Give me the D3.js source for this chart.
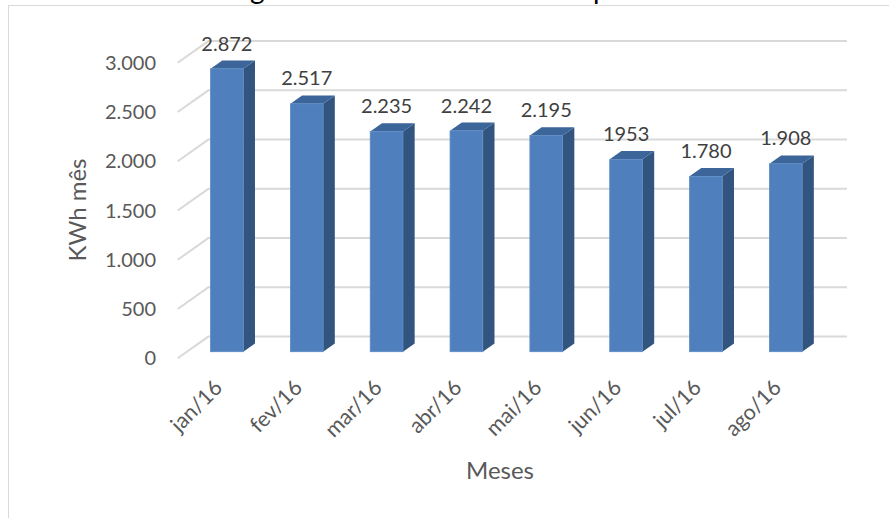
<!DOCTYPE html>
<html>
<head>
<meta charset="utf-8">
<script src="https://cdn.jsdelivr.net/npm/d3@7"></script>
<style>
  body { margin: 0; background: #fff; }
  svg { display: block; font-family: Lato, "Open Sans", sans-serif; }
</style>
</head>
<body>
<div class="chart"></div>
<script>
const months = ["jan/16", "fev/16", "mar/16", "abr/16", "mai/16", "jun/16", "jul/16", "ago/16"];
const kwh = [2872, 2517, 2235, 2242, 2195, 1953, 1780, 1908];
const valueLabels = ["2.872", "2.517", "2.235", "2.242", "2.195", "1953", "1.780", "1.908"];
const yTicks = [0, 500, 1000, 1500, 2000, 2500, 3000];
const titleText = "Histórico de consumo de energia elétrica da unidade no período";

const width = 889;
const height = 518;

// oblique 3d: depth of the whole floor and of the bars
const wallDx = 30.6, wallDy = -21.7;
const barOffX = 9.3, barOffY = -6.6;
const barDx = 11.7, barDy = -8.3;

const ptBR = d3.formatLocale({decimal: ",", thousands: ".", grouping: [3], currency: ["R$", ""]});
const fmt = ptBR.format(",");

const svg = d3.select(".chart")
    .append("svg")
    .attr("width", width)
    .attr("height", height);

// chart border
svg.append("rect")
    .attr("x", 8.5).attr("y", 5.5)
    .attr("width", 1000).attr("height", 600)
    .attr("fill", "none")
    .attr("stroke", "#d9d9d9");

// title, mostly cut off above the picture
const title = svg.append("text")
    .attr("y", -1)
    .attr("font-size", 28)
    .attr("fill", "#000")
    .text(titleText);
const gi = titleText.indexOf("g"), pi = titleText.indexOf("p");
const node = title.node();
const gx = node.getStartPositionOfChar(gi).x, px = node.getStartPositionOfChar(pi).x;
const spacing = (593 - 250 - (px - gx)) / (pi - gi);
title.attr("letter-spacing", spacing);
const gx2 = node.getStartPositionOfChar(gi).x;
title.attr("x", 250 - gx2);

const x = d3.scaleBand()
    .domain(months)
    .range([177.7, 816.4]);

const y = d3.scaleLinear()
    .domain([0, 3000])
    .range([358.3, 62.8]);

// gridlines: side wall diagonal + back wall
const grid = svg.append("g")
    .attr("fill", "none")
    .attr("stroke", "#d9d9d9")
    .attr("stroke-width", 2);
grid.selectAll("path")
    .data(yTicks)
    .enter()
    .append("path")
    .attr("d", function(d){
        let x0 = x.range()[0], y0 = y(d);
        return "M" + x0 + "," + y0 +
            "L" + (x0 + wallDx) + "," + (y0 + wallDy) +
            "L" + (x.range()[1] + wallDx) + "," + (y0 + wallDy);
    });

// y tick labels
svg.append("g")
    .selectAll("text")
    .data(yTicks)
    .enter()
    .append("text")
    .attr("x", 156)
    .attr("y", d => y(d))
    .attr("dy", "0.35em")
    .attr("text-anchor", "end")
    .attr("font-size", 20)
    .attr("fill", "#595959")
    .text(d => fmt(d));

const bw = x.bandwidth() * 0.41;

const bars = svg.append("g")
    .selectAll("g")
    .data(months)
    .enter()
    .append("g");

function corners(d, i){
    let left = x(d) + x.bandwidth() / 2 - bw / 2 + barOffX;
    let right = left + bw;
    let top = y(kwh[i]) + barOffY;
    let bottom = y(0) + barOffY;
    return {left, right, top, bottom};
}

// side face
bars.append("path")
    .attr("fill", "#32557f")
    .attr("d", function(d, i){
        let c = corners(d, i);
        return "M" + c.right + "," + c.top +
            "L" + (c.right + barDx) + "," + (c.top + barDy) +
            "L" + (c.right + barDx) + "," + (c.bottom + barDy) +
            "L" + c.right + "," + c.bottom + "Z";
    });

// top face
bars.append("path")
    .attr("fill", "#3c6599")
    .attr("d", function(d, i){
        let c = corners(d, i);
        return "M" + c.left + "," + c.top +
            "L" + c.right + "," + c.top +
            "L" + (c.right + barDx) + "," + (c.top + barDy) +
            "L" + (c.left + barDx) + "," + (c.top + barDy) + "Z";
    });

// front face
bars.append("rect")
    .attr("fill", "#4f80bd")
    .attr("stroke", "#5b8bc6")
    .attr("stroke-width", 0.8)
    .attr("x", (d, i) => corners(d, i).left)
    .attr("y", (d, i) => corners(d, i).top)
    .attr("width", bw)
    .attr("height", (d, i) => corners(d, i).bottom - corners(d, i).top);

// value labels
svg.append("g")
    .selectAll("text")
    .data(months)
    .enter()
    .append("text")
    .attr("x", (d, i) => corners(d, i).left + bw / 2)
    .attr("y", (d, i) => corners(d, i).top + barDy - 17)
    .attr("dy", "0.35em")
    .attr("text-anchor", "middle")
    .attr("font-size", 20)
    .attr("fill", "#404040")
    .text((d, i) => valueLabels[i]);

// x tick labels
svg.append("g")
    .selectAll("text")
    .data(months)
    .enter()
    .append("text")
    .attr("transform", d => "translate(" + (x(d) + x.bandwidth() / 2 + 6) + ",389) rotate(-45)")
    .attr("text-anchor", "end")
    .attr("font-size", 21.5)
    .attr("fill", "#595959")
    .text(d => d);

// axis titles
svg.append("text")
    .attr("x", 500)
    .attr("y", 479)
    .attr("text-anchor", "middle")
    .attr("font-size", 24)
    .attr("fill", "#595959")
    .text("Meses");

svg.append("text")
    .attr("transform", "translate(86,210) rotate(-90)")
    .attr("text-anchor", "middle")
    .attr("font-size", 24)
    .attr("fill", "#595959")
    .text("KWh mês");
</script>
</body>
</html>
